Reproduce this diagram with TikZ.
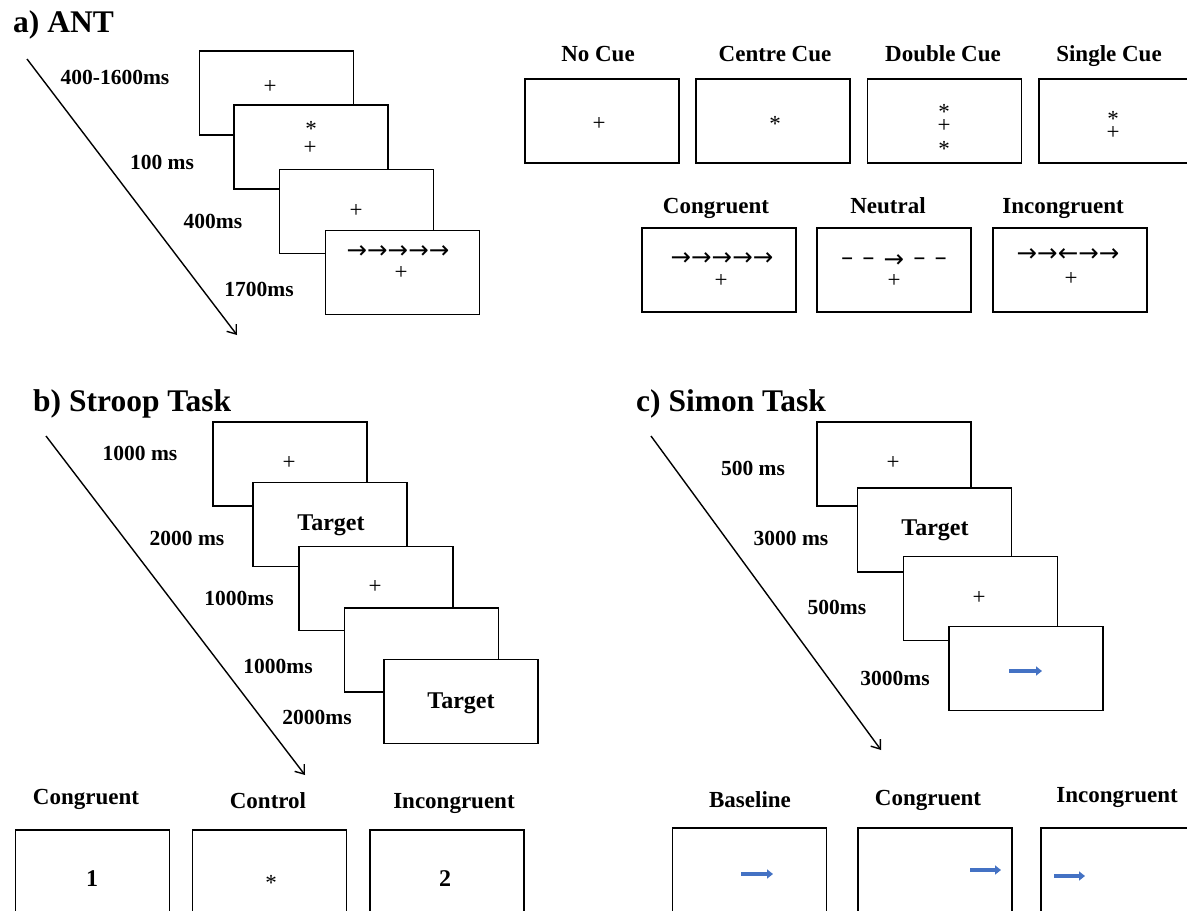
\documentclass[tikz,border=0pt]{standalone}
\usepackage{fontspec}
\setmainfont{Liberation Serif}
\newfontfamily\arrowfont{DejaVu Sans}
\usetikzlibrary{arrows.meta}
\definecolor{simonblue}{RGB}{68,114,196}
\begin{document}
\begin{tikzpicture}[x=1pt,y=-1pt,
  screen/.style={draw, line width=1.9pt, fill=white, minimum width=154pt, minimum height=84pt, inner sep=0pt},
  panel/.style={anchor=base west, inner sep=0pt, font=\fontsize{31.5}{31.5}\selectfont\bfseries},
  dur/.style={inner sep=0pt, font=\fontsize{21.5}{21.5}\selectfont\bfseries},
  cond/.style={anchor=base, inner sep=0pt, font=\fontsize{23}{23}\selectfont\bfseries},
  stim/.style={inner sep=0pt, font=\fontsize{23}{23}\selectfont},
  cue/.style={stim, text depth=-6pt},
  flank/.style={inner sep=0pt, font=\fontsize{24.5}{24.5}\arrowfont},
  word/.style={anchor=base, inner sep=0pt, font=\fontsize{24}{24}\selectfont\bfseries},
  timeline/.style={line width=1.4pt, -{Straight Barb[length=8pt,width=12pt]}},
  cursor/.style={draw=simonblue, line width=3.6pt, -{Triangle[length=6pt,width=9pt]}}]
\useasboundingbox (0,0) rectangle (1187,911);
\clip (0,0) rectangle (1187,911);
\node[panel] (antttl) at (13,32) {a) ANT};
\coordinate (antfrom) at (27,59);
\coordinate (antto) at (237,335);
\draw[timeline] (antfrom) -- (antto);
\node[dur] (antd1) at (115,77) {400-1600ms};
\node[dur] (antd2) at (162,162) {100 ms};
\node[dur] (antd3) at (213,221) {400ms};
\node[dur] (antd4) at (259,289) {1700ms};
\node[screen] (ant1) at (276.5,93) {};
\node[stim] (ant1fix) at (270,87) {+};
\node[screen] (ant2) at (311,147) {};
\node[cue] (ant2cue) at (311,129) {*};
\node[stim] (ant2fix) at (310,148) {+};
\node[screen] (ant3) at (356.5,211.5) {};
\node[stim] (ant3fix) at (356,211) {+};
\node[screen] (ant4) at (402.5,272.5) {};
\node[flank] (ant4flk) at (398,252) {→→→→→};
\node[stim] (ant4fix) at (401,273) {+};
\node[cond] (nocuelbl) at (598,61) {No Cue};
\node[cond] (centrelbl) at (775,61) {Centre Cue};
\node[cond] (doublelbl) at (943,61) {Double Cue};
\node[cond] (singlelbl) at (1109,61) {Single Cue};
\node[screen] (nocue) at (602,121) {};
\node[stim] (nocuefix) at (599,124) {+};
\node[screen] (centre) at (773,121) {};
\node[cue] (centrecue) at (775,124) {*};
\node[screen] (double) at (944.5,121) {};
\node[cue] (doubletop) at (944,112) {*};
\node[stim] (doublefix) at (944,126) {+};
\node[cue] (doublebot) at (944,149) {*};
\node[screen] (single) at (1116,121) {};
\node[cue] (singlecue) at (1113,119) {*};
\node[stim] (singlefix) at (1113,133) {+};
\node[cond] (flkconlbl) at (716,213) {Congruent};
\node[cond] (flkneulbl) at (888,213) {Neutral};
\node[cond] (flkinclbl) at (1063,213) {Incongruent};
\node[screen] (flkcon) at (719,270) {};
\node[flank] (flkconrow) at (722,259) {→→→→→};
\node[stim] (flkconfix) at (721,281) {+};
\node[screen] (flkneu) at (894,270) {};
\node[flank] (flkneurow) at (894,261) {\raisebox{1.5pt}{–}\hspace{9pt}\raisebox{1.5pt}{–}\hspace{9pt}→\hspace{9pt}\raisebox{1.5pt}{–}\hspace{9pt}\raisebox{1.5pt}{–}};
\node[stim] (flkneufix) at (894,281) {+};
\node[screen] (flkinc) at (1070,270) {};
\node[flank] (flkincrow) at (1068,255) {→→←→→};
\node[stim] (flkincfix) at (1071,279) {+};
\node[panel] (strttl) at (33,411) {b) Stroop Task};
\coordinate (strfrom) at (46,436);
\coordinate (strto) at (305,775);
\draw[timeline] (strfrom) -- (strto);
\node[dur] (strd1) at (140,453) {1000 ms};
\node[dur] (strd2) at (187,538) {2000 ms};
\node[dur] (strd3) at (239,598) {1000ms};
\node[dur] (strd4) at (278,666) {1000ms};
\node[dur] (strd5) at (317,717) {2000ms};
\node[screen] (str1) at (290,464) {};
\node[stim] (str1fix) at (289,463) {+};
\node[screen] (str2) at (330,524.5) {};
\node[word] (str2tgt) at (331,530) {Target};
\node[screen] (str3) at (376,588.5) {};
\node[stim] (str3fix) at (375,587) {+};
\node[screen] (str4) at (421.5,650) {};
\node[screen] (str5) at (461,701.5) {};
\node[word] (str5tgt) at (461,708) {Target};
\node[cond] (strconlbl) at (86,804) {Congruent};
\node[cond] (strctllbl) at (268,808) {Control};
\node[cond] (strinclbl) at (454,808) {Incongruent};
\node[screen] (strcon) at (92.5,872) {};
\node[word] (strconnum) at (92,886) {1};
\node[screen] (strctl) at (269.5,872) {};
\node[cue] (strctlcue) at (271,883) {*};
\node[screen] (strinc) at (447,872) {};
\node[word] (strincnum) at (445,886) {2};
\node[panel] (simttl) at (636,411) {c) Simon Task};
\coordinate (simfrom) at (651,436);
\coordinate (simto) at (881,750);
\draw[timeline] (simfrom) -- (simto);
\node[dur] (simd1) at (753,468) {500 ms};
\node[dur] (simd2) at (791,538) {3000 ms};
\node[dur] (simd3) at (837,607) {500ms};
\node[dur] (simd4) at (895,678) {3000ms};
\node[screen] (sim1) at (894,464) {};
\node[stim] (sim1fix) at (893,463) {+};
\node[screen] (sim2) at (934.5,530) {};
\node[word] (sim2tgt) at (935,535) {Target};
\node[screen] (sim3) at (980.5,598.5) {};
\node[stim] (sim3fix) at (979,598) {+};
\node[screen] (sim4) at (1026,668.5) {};
\coordinate (sim4tail) at (1009,671);
\coordinate (sim4head) at (1042,671);
\draw[cursor] (sim4tail) -- (sim4head);
\node[cond] (simbaslbl) at (750,807) {Baseline};
\node[cond] (simconlbl) at (928,805) {Congruent};
\node[cond] (siminclbl) at (1117,802) {Incongruent};
\node[screen] (simbas) at (749.5,870) {};
\coordinate (simbastail) at (741,874);
\coordinate (simbashead) at (773,874);
\draw[cursor] (simbastail) -- (simbashead);
\node[screen] (simcon) at (935,870) {};
\coordinate (simcontail) at (970,870);
\coordinate (simconhead) at (1001,870);
\draw[cursor] (simcontail) -- (simconhead);
\node[screen] (siminc) at (1118,870) {};
\coordinate (siminctail) at (1054,876);
\coordinate (siminchead) at (1085,876);
\draw[cursor] (siminctail) -- (siminchead);
\end{tikzpicture}
\end{document}
